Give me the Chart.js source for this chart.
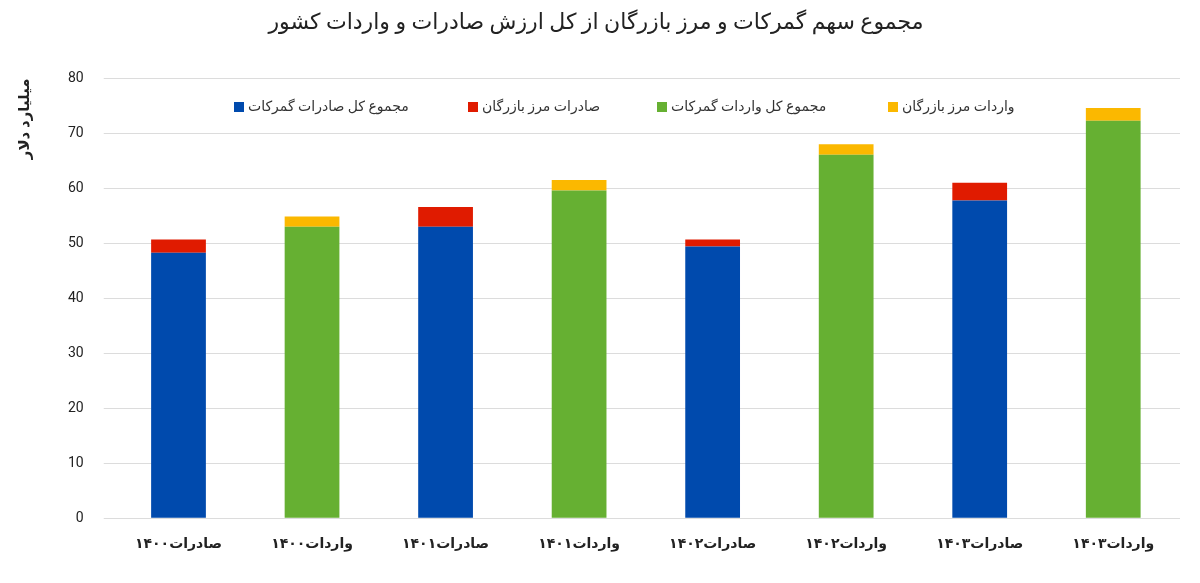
<!DOCTYPE html>
<html>
<head>
<meta charset="utf-8">
<script src="https://cdn.jsdelivr.net/npm/chart.js@4"></script>
<style>
  html, body { margin: 0; padding: 0; background: #fff; }
  #wrap { width: 1200px; height: 583px; }
</style>
</head>
<body>
<div id="wrap"><canvas id="c"></canvas></div>
<script>
// دسته‌ها و مقادیر (میلیارد دلار)
const labels = ['صادرات۱۴۰۰', 'واردات۱۴۰۰', 'صادرات۱۴۰۱', 'واردات۱۴۰۱', 'صادرات۱۴۰۲', 'واردات۱۴۰۲', 'صادرات۱۴۰۳', 'واردات۱۴۰۳'];
const exportsCustoms = [48.3, null, 53.0, null, 49.4, null, 57.8, null];
const exportsBazargan = [2.4, null, 3.6, null, 1.3, null, 3.2, null];
const importsCustoms = [null, 53.0, null, 59.6, null, 66.1, null, 72.3];
const importsBazargan = [null, 1.9, null, 1.9, null, 1.9, null, 2.3];
const seriesNames = ['مجموع کل صادرات گمرکات', 'صادرات مرز بازرگان', 'مجموع کل واردات گمرکات', 'واردات مرز بازرگان'];
const colors = ['#004aad', '#e01b00', '#66b032', '#fbb800'];

const font = "Roboto, 'Noto Sans', 'DejaVu Sans', sans-serif";

// افسانه داخل ناحیه نمودار
const legendInside = {
    id: 'legendInside',
    afterDraw(chart) {
        const ctx = chart.ctx;
        const xs = [234, 468, 657, 888];
        ctx.save();
        ctx.font = '14px ' + font;
        ctx.textBaseline = 'middle';
        chart.data.datasets.forEach((ds, i) => {
            ctx.fillStyle = ds.backgroundColor;
            ctx.fillRect(xs[i], 102, 10, 10);
            ctx.fillStyle = '#333';
            ctx.textAlign = 'left';
            ctx.fillText(ds.label, xs[i] + 14, 107);
        });
        ctx.restore();
    }
};

new Chart(document.getElementById('c'), {
    type: 'bar',
    data: {
        labels: labels,
        datasets: [
            { label: seriesNames[0], data: exportsCustoms, backgroundColor: colors[0] },
            { label: seriesNames[1], data: exportsBazargan, backgroundColor: colors[1] },
            { label: seriesNames[2], data: importsCustoms, backgroundColor: colors[2] },
            { label: seriesNames[3], data: importsBazargan, backgroundColor: colors[3] }
        ]
    },
    options: {
        responsive: true,
        maintainAspectRatio: false,
        animation: false,
        layout: { padding: { left: 12, right: 20, top: 0, bottom: 20 } },
        datasets: { bar: { categoryPercentage: 1, barPercentage: 0.41, skipNull: true } },
        plugins: {
            legend: { display: false },
            tooltip: { enabled: false },
            title: {
                display: true,
                text: 'مجموع سهم گمرکات و مرز بازرگان از کل ارزش صادرات و واردات کشور',
                color: '#222',
                font: { family: font, size: 22, weight: 'normal' },
                padding: { top: 10, bottom: 42 }
            }
        },
        scales: {
            x: {
                stacked: true,
                grid: { display: false },
                border: { display: false },
                ticks: { color: '#222', font: { family: font, size: 14, weight: 'bold' }, padding: 10 }
            },
            y: {
                stacked: true,
                min: 0,
                max: 80,
                ticks: { stepSize: 10, color: '#222', font: { family: font, size: 14 }, padding: 20 },
                grid: { color: '#dcdcdc' },
                border: { display: false },
                title: {
                    display: true,
                    text: 'میلیارد دلار',
                    align: 'end',
                    color: '#222',
                    font: { family: font, size: 15, weight: 'bold' },
                    padding: { bottom: 14 }
                }
            }
        }
    },
    plugins: [legendInside]
});
</script>
</body>
</html>
